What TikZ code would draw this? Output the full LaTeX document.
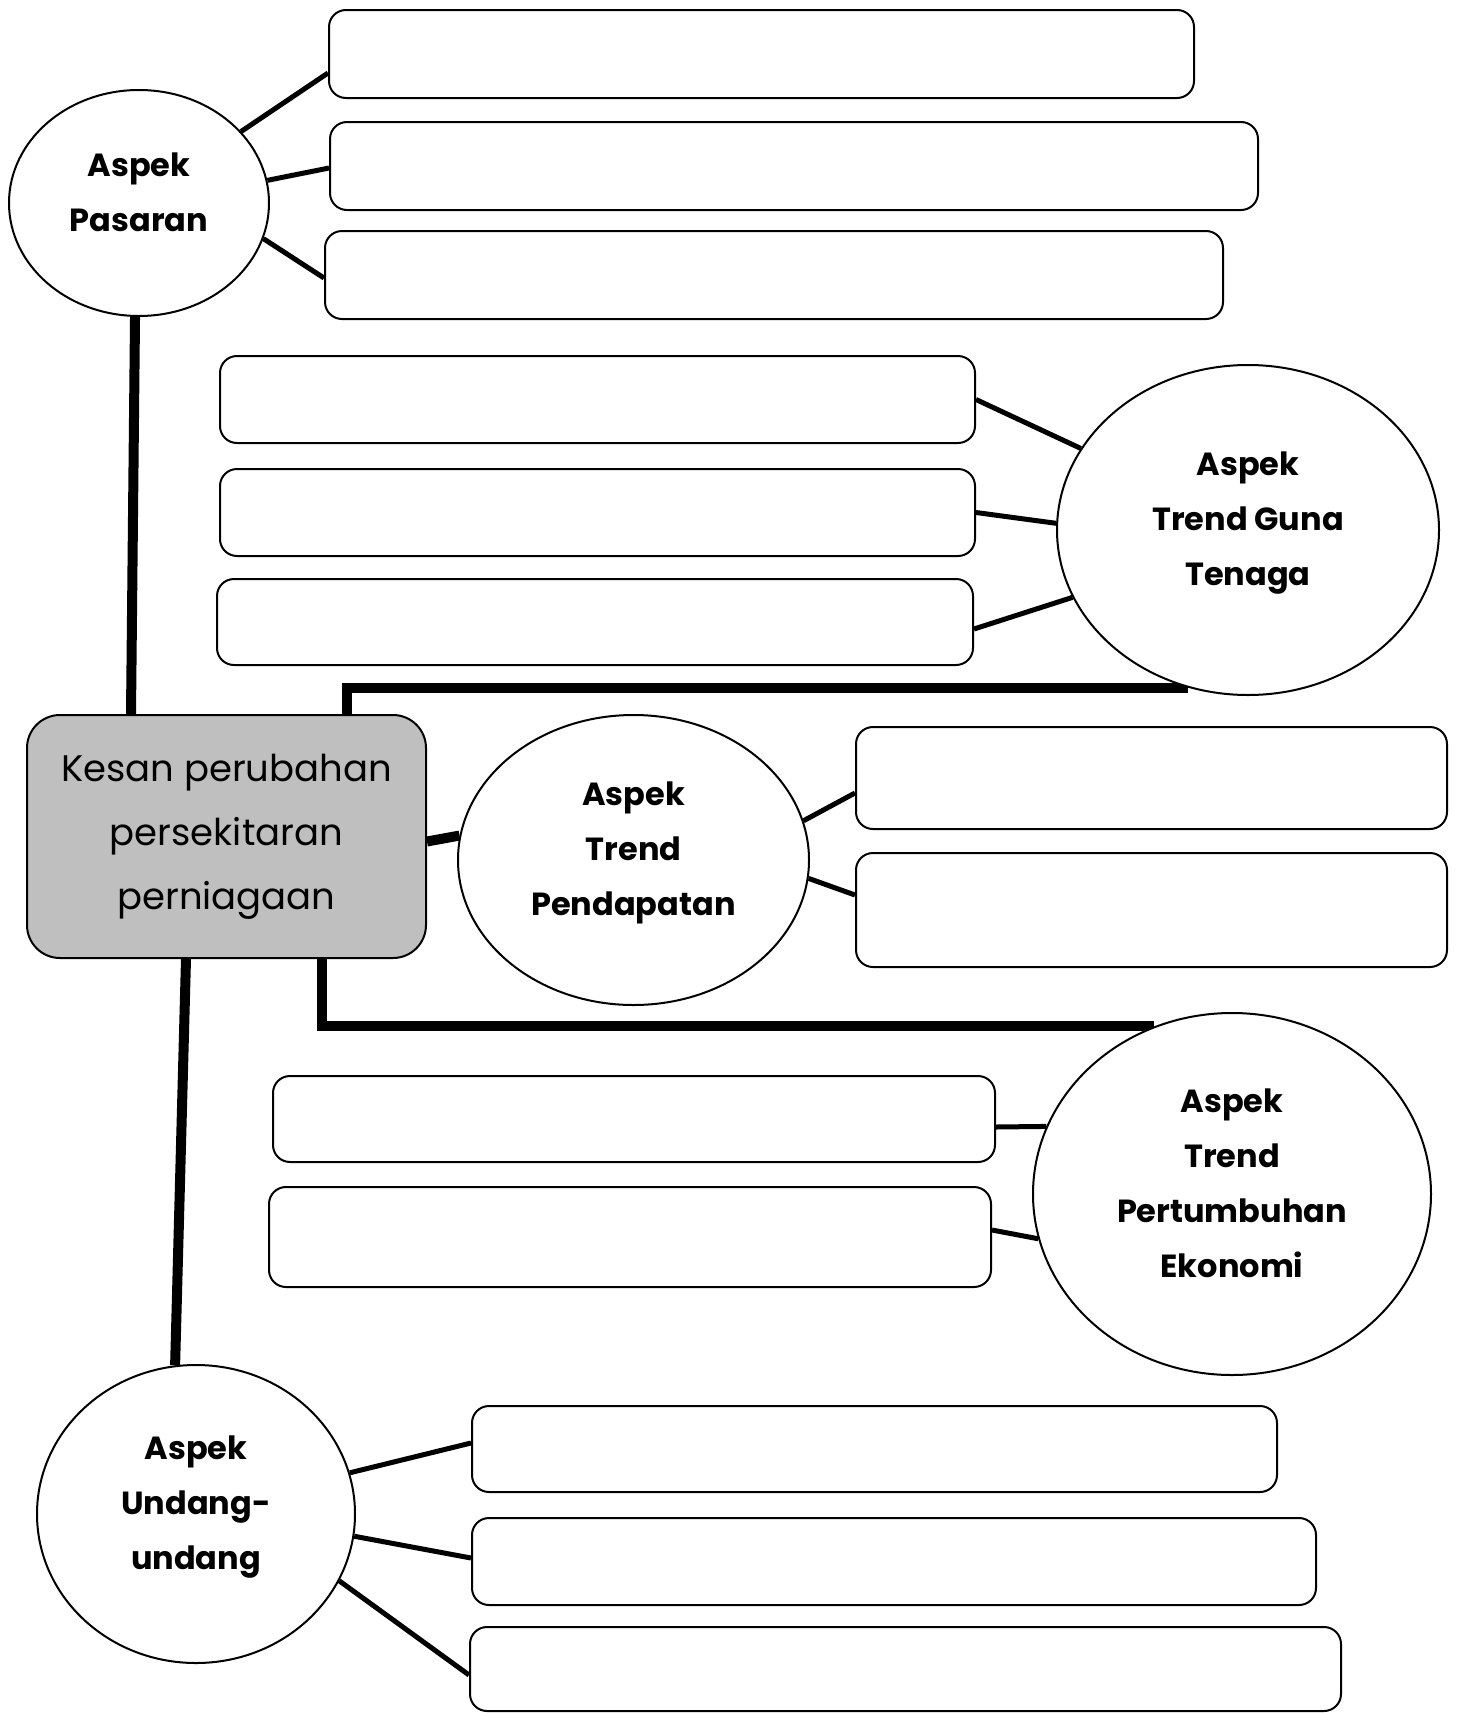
\documentclass[tikz,border=0pt]{standalone}
\usepackage{fontspec}
\setmainfont{Poppins}
\usetikzlibrary{shapes.geometric,backgrounds}

\begin{document}
\begin{tikzpicture}[x=1pt, y=-1pt,
    aspek/.style={draw, line width=2pt, ellipse, fill=white, inner sep=0pt, align=center, text depth=22pt, font=\fontsize{32}{55}\selectfont\bfseries},
    kotak/.style={draw, line width=2pt, rounded corners=17pt, fill=white},
    garis/.style={line width=5pt},
    tebal/.style={line width=10pt}]
    \useasboundingbox (0,0) rectangle (1457,1713);
    \node[draw, line width=2pt, fill=black!25, rounded corners=33pt, minimum width=399pt, minimum height=243pt, align=center, font=\fontsize{37}{64}\selectfont] (kesan) at (226.5,836.5) {Kesan perubahan\\persekitaran\\perniagaan};
    \node[aspek, minimum width=260pt, minimum height=226pt] (pasaran) at (139,203) {Aspek\\Pasaran};
    \node[aspek, minimum width=382pt, minimum height=330pt] (gunatenaga) at (1248,530) {Aspek\\Trend Guna\\Tenaga};
    \node[aspek, minimum width=351pt, minimum height=290pt] (pendapatan) at (633.5,860) {Aspek\\Trend\\Pendapatan};
    \node[aspek, minimum width=398pt, minimum height=362pt] (pertumbuhan) at (1232,1194) {Aspek\\Trend\\Pertumbuhan\\Ekonomi};
    \node[aspek, minimum width=318pt, minimum height=298pt] (undang) at (196,1514) {Aspek\\Undang-\\undang};
    \node[kotak, minimum width=865pt, minimum height=88pt] (pas1) at (761.5,54) {};
    \node[kotak, minimum width=928pt, minimum height=88pt] (pas2) at (794,166) {};
    \node[kotak, minimum width=898pt, minimum height=88pt] (pas3) at (774,275) {};
    \node[kotak, minimum width=755pt, minimum height=87pt] (gt1) at (597.5,399.5) {};
    \node[kotak, minimum width=755pt, minimum height=87pt] (gt2) at (597.5,512.5) {};
    \node[kotak, minimum width=756pt, minimum height=86pt] (gt3) at (595,622) {};
    \node[kotak, minimum width=591pt, minimum height=102pt] (pd1) at (1151.5,778) {};
    \node[kotak, minimum width=591pt, minimum height=114pt] (pd2) at (1151.5,910) {};
    \node[kotak, minimum width=722pt, minimum height=86pt] (pe1) at (634,1119) {};
    \node[kotak, minimum width=722pt, minimum height=100pt] (pe2) at (630,1237) {};
    \node[kotak, minimum width=805pt, minimum height=86pt] (uu1) at (874.5,1449) {};
    \node[kotak, minimum width=844pt, minimum height=87pt] (uu2) at (894,1561.5) {};
    \node[kotak, minimum width=871pt, minimum height=84pt] (uu3) at (905.5,1669) {};
    \begin{scope}[on background layer]
    \draw[garis] (pasaran.35) -- ([yshift=-19pt]pas1.west);
    \draw[garis] (pasaran.10) -- ([yshift=-2pt]pas2.west);
    \draw[garis] (pasaran.-16) -- ([yshift=-3pt]pas3.west);
    \draw[garis] (gt1.east) -- (gunatenaga.154);
    \draw[garis] (gt2.east) -- (gunatenaga.178);
    \draw[garis] ([yshift=-7pt]gt3.east) -- (gunatenaga.201);
    \draw[garis] (pendapatan.13) -- ([yshift=-15pt]pd1.west);
    \draw[garis] (pendapatan.354) -- ([yshift=15pt]pd2.west);
    \draw[garis] ([yshift=-8pt]pe1.east) -- (pertumbuhan.160);
    \draw[garis] ([yshift=7pt]pe2.east) -- (pertumbuhan.193);
    \draw[garis] (undang.15) -- ([yshift=6pt]uu1.west);
    \draw[garis] (undang.352) -- ([yshift=3.5pt]uu2.west);
    \draw[garis] (undang.335) -- ([yshift=-6pt]uu3.west);
    \draw[tebal] (pasaran.268) -- ([xshift=-95.5pt]kesan.north);
    \draw[tebal] ([xshift=120.5pt]kesan.north) |- (gunatenaga.249);
    \draw[tebal] ([yshift=-5pt]kesan.east) -- (pendapatan.172);
    \draw[tebal] ([xshift=95.5pt]kesan.south) |- (pertumbuhan.115);
    \draw[tebal] ([xshift=-40.5pt]kesan.south) -- (undang.98);
    \end{scope}
\end{tikzpicture}
\end{document}
